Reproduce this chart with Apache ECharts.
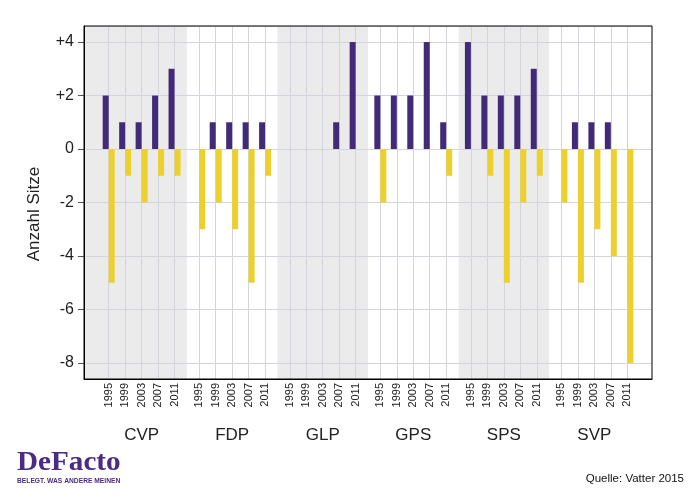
<!DOCTYPE html>
<html><head><meta charset="utf-8">
<script src="https://cdn.jsdelivr.net/npm/echarts@6/dist/echarts.min.js"></script>
<style>html,body{margin:0;padding:0;background:#fff}#c{width:700px;height:500px}</style>
</head><body><div id="c"></div>
<script>
// ---- data ----
const parties = ['CVP', 'FDP', 'GLP', 'GPS', 'SPS', 'SVP'];
const years = ['1995', '1999', '2003', '2007', '2011'];
const cvpGains  = [2, 1, 1, 2, 3];
const cvpLosses = [-5, -1, -2, -1, -1];
const fdpGains  = [0, 1, 1, 1, 1];
const fdpLosses = [-3, -2, -3, -5, -1];
const glpGains  = [0, 0, 0, 1, 4];
const glpLosses = [0, 0, 0, 0, 0];
const gpsGains  = [2, 2, 2, 4, 1];
const gpsLosses = [-2, 0, 0, 0, -1];
const spsGains  = [4, 2, 2, 2, 3];
const spsLosses = [0, -1, -5, -2, -1];
const svpGains  = [0, 1, 1, 1, 0];
const svpLosses = [-2, -5, -3, -4, -8];
const shadedParties = ['CVP', 'GLP', 'SPS'];
const yMin = -8.6, yMax = 4.6;

const gains = [cvpGains, fdpGains, glpGains, gpsGains, spsGains, svpGains];
const losses = [cvpLosses, fdpLosses, glpLosses, gpsLosses, spsLosses, svpLosses];

// ---- positions on a fine category scale ----
const PARTY_SPAN = 5.5, X_MIN = -1.5, X_MAX = 33, STEP = 0.25;
const N = Math.round((X_MAX - X_MIN) / STEP) + 1;
const idx = x => Math.round((x - X_MIN) / STEP);
const cats = Array.from({length: N}, (_, k) => 'p' + k);
const yearLabels = Array(N).fill('');
const partyLabels = Array(N).fill('');
const gainData = Array(N).fill(null);
const lossData = Array(N).fill(null);
parties.forEach((p, i) => {
  years.forEach((y, j) => {
    const k = idx(i * PARTY_SPAN + j);
    yearLabels[k] = y;
    gainData[k] = gains[i][j] > 0 ? gains[i][j] : null;
    lossData[k] = losses[i][j] < 0 ? losses[i][j] : null;
  });
  partyLabels[idx(i * PARTY_SPAN + 2)] = p;
});
const bands = [];
parties.forEach((p, i) => {
  if (shadedParties.includes(p)) {
    const s = i === 0 ? 0 : idx(i * PARTY_SPAN - 0.75);
    const e = i === parties.length - 1 ? N - 1 : idx(i * PARTY_SPAN + 4.75);
    bands.push([s, yMax, e, yMin]);
  }
});

const FONT = '"Liberation Sans", Arial, sans-serif';
const gridCol = '#d4d4dc';
const chart = echarts.init(document.getElementById('c'), null, {renderer: 'canvas'});
chart.setOption({
  animation: false,
  backgroundColor: '#fff',
  textStyle: {fontFamily: FONT},
  grid: {left: 84, right: 48, top: 26, bottom: 121, show: true, borderColor: '#000', borderWidth: 1, backgroundColor: 'transparent', z: 3},
  xAxis: [{
    type: 'category', data: cats, boundaryGap: false, z: 1,
    axisLine: {show: true, onZero: false, lineStyle: {color: '#000', width: 1}},
    axisTick: {show: false},
    axisLabel: {interval: (i) => yearLabels[i] !== '', formatter: (v, i) => yearLabels[i], rotate: 90, fontSize: 11, margin: 4, color: '#222', fontFamily: FONT},
    splitLine: {show: true, interval: (i) => yearLabels[i] !== '', lineStyle: {color: gridCol, width: 1}}
  }, {
    type: 'category', data: cats, boundaryGap: false, position: 'bottom', offset: 40, z: 1,
    axisLine: {show: false, onZero: false}, axisTick: {show: false}, splitLine: {show: false},
    axisLabel: {interval: (i) => partyLabels[i] !== '', formatter: (v, i) => partyLabels[i], fontSize: 17, margin: 8, color: '#222', fontFamily: FONT}
  }],
  yAxis: {
    type: 'value', min: yMin, max: yMax, splitNumber: 7, z: 1,
    name: 'Anzahl Sitze', nameLocation: 'middle', nameGap: 41,
    nameTextStyle: {fontSize: 17, color: '#222', fontFamily: FONT, padding: [0, 23, 0, 0]},
    axisLine: {show: true, lineStyle: {color: '#000', width: 1}},
    axisTick: {show: true, length: 6, lineStyle: {color: '#555'}},
    axisLabel: {fontSize: 16, color: '#222', margin: 10, fontFamily: FONT, formatter: v => v > 0 ? '+' + v : String(v), showMinLabel: false, showMaxLabel: false},
    splitLine: {show: true, lineStyle: {color: gridCol, width: 1}}
  },
  series: [{
    type: 'custom', z: 0, silent: true, data: bands,
    encode: {x: [0, 2], y: [1, 3]},
    renderItem: (params, api) => {
      const p1 = api.coord([api.value(0), api.value(1)]);
      const p2 = api.coord([api.value(2), api.value(3)]);
      return {type: 'rect', shape: {x: p1[0], y: p1[1], width: p2[0] - p1[0], height: p2[1] - p1[1]}, style: {fill: '#ebebeb'}};
    }
  }, {
    type: 'bar', name: 'Gewinne', data: gainData, barWidth: 6, barGap: '0%', z: 2,
    itemStyle: {color: '#412a78'}
  }, {
    type: 'bar', name: 'Verluste', data: lossData, barWidth: 6, barGap: '0%', z: 2,
    itemStyle: {color: '#ecd02d'}
  }],
  graphic: [
    {type: 'text', x: 17, y: 450, scaleX: 1.08, style: {text: 'DeFacto', font: 'bold 27px "Liberation Serif", serif', fill: '#4a2c84', verticalAlign: 'top'}},
    {type: 'text', x: 17, y: 478, style: {text: 'BELEGT. WAS ANDERE MEINEN', font: 'bold 6.7px "Liberation Sans", sans-serif', fill: '#4a2c84', verticalAlign: 'top'}},
    {type: 'text', x: 684, y: 473, style: {text: 'Quelle: Vatter 2015', font: '11.5px "Liberation Sans", sans-serif', fill: '#111', align: 'right', verticalAlign: 'top'}}
  ]
});
</script></body></html>
